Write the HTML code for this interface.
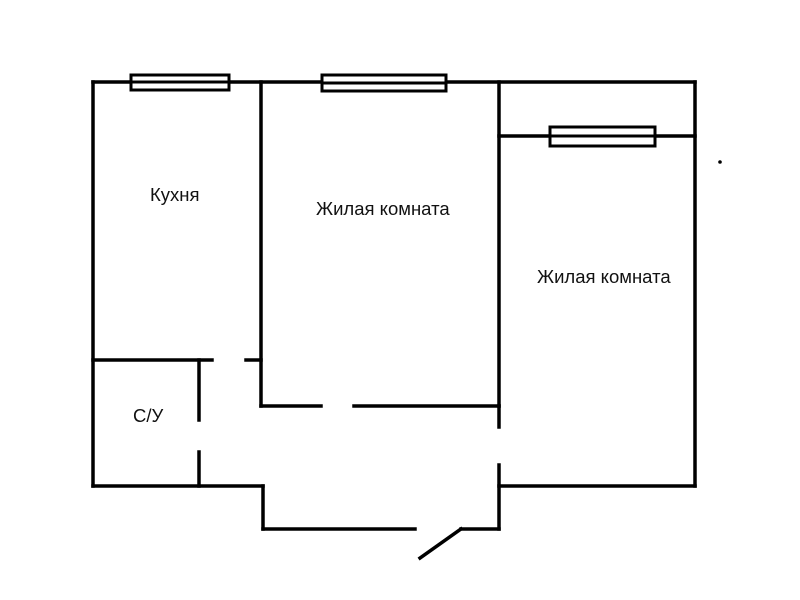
<!DOCTYPE html>
<html><head><meta charset="utf-8"><style>
html,body{margin:0;padding:0;background:#fff;}
svg{display:block}
text{font-family:"Liberation Sans","DejaVu Sans",sans-serif;font-size:18.5px;fill:#111;}
</style></head><body>
<svg width="800" height="600" viewBox="0 0 800 600">
<g stroke="#000" stroke-width="3.5" fill="none" stroke-linecap="square">
<line x1="93" y1="82" x2="695" y2="82"/>
<line x1="93" y1="82" x2="93" y2="486"/>
<line x1="695" y1="82" x2="695" y2="486"/>
<line x1="261" y1="82" x2="261" y2="406"/>
<line x1="499" y1="82" x2="499" y2="406"/>
<line x1="499" y1="136" x2="695" y2="136"/>
<line x1="93" y1="360" x2="212" y2="360"/>
<line x1="199" y1="360" x2="199" y2="420"/>
<line x1="199" y1="452" x2="199" y2="486"/>
<line x1="246" y1="360" x2="261" y2="360"/>
<line x1="261" y1="406" x2="321" y2="406"/>
<line x1="354" y1="406" x2="499" y2="406"/>
<line x1="499" y1="406" x2="499" y2="427"/>
<line x1="499" y1="465" x2="499" y2="529"/>
<line x1="93" y1="486" x2="263" y2="486"/>
<line x1="263" y1="486" x2="263" y2="529"/>
<line x1="263" y1="529" x2="415" y2="529"/>
<line x1="461" y1="529" x2="499" y2="529"/>
<line x1="461" y1="529" x2="420" y2="558"/>
<line x1="499" y1="486" x2="695" y2="486"/>
</g>
<g stroke="#000" stroke-width="3" fill="#fff">
<rect x="131" y="75" width="98" height="15"/>
<rect x="322" y="75" width="124" height="16"/>
<rect x="550" y="127" width="105" height="19"/>
</g>
<g stroke="#000" stroke-width="3">
<line x1="131" y1="82" x2="229" y2="82"/>
<line x1="322" y1="83" x2="446" y2="83"/>
<line x1="550" y1="136" x2="655" y2="136"/>
</g>
<circle cx="720" cy="162" r="1.8" fill="#000"/>
<text x="150" y="201">Кухня</text>
<text x="316" y="215">Жилая комната</text>
<text x="537" y="283">Жилая комната</text>
<text x="133" y="422">С/У</text>
</svg>
</body></html>
